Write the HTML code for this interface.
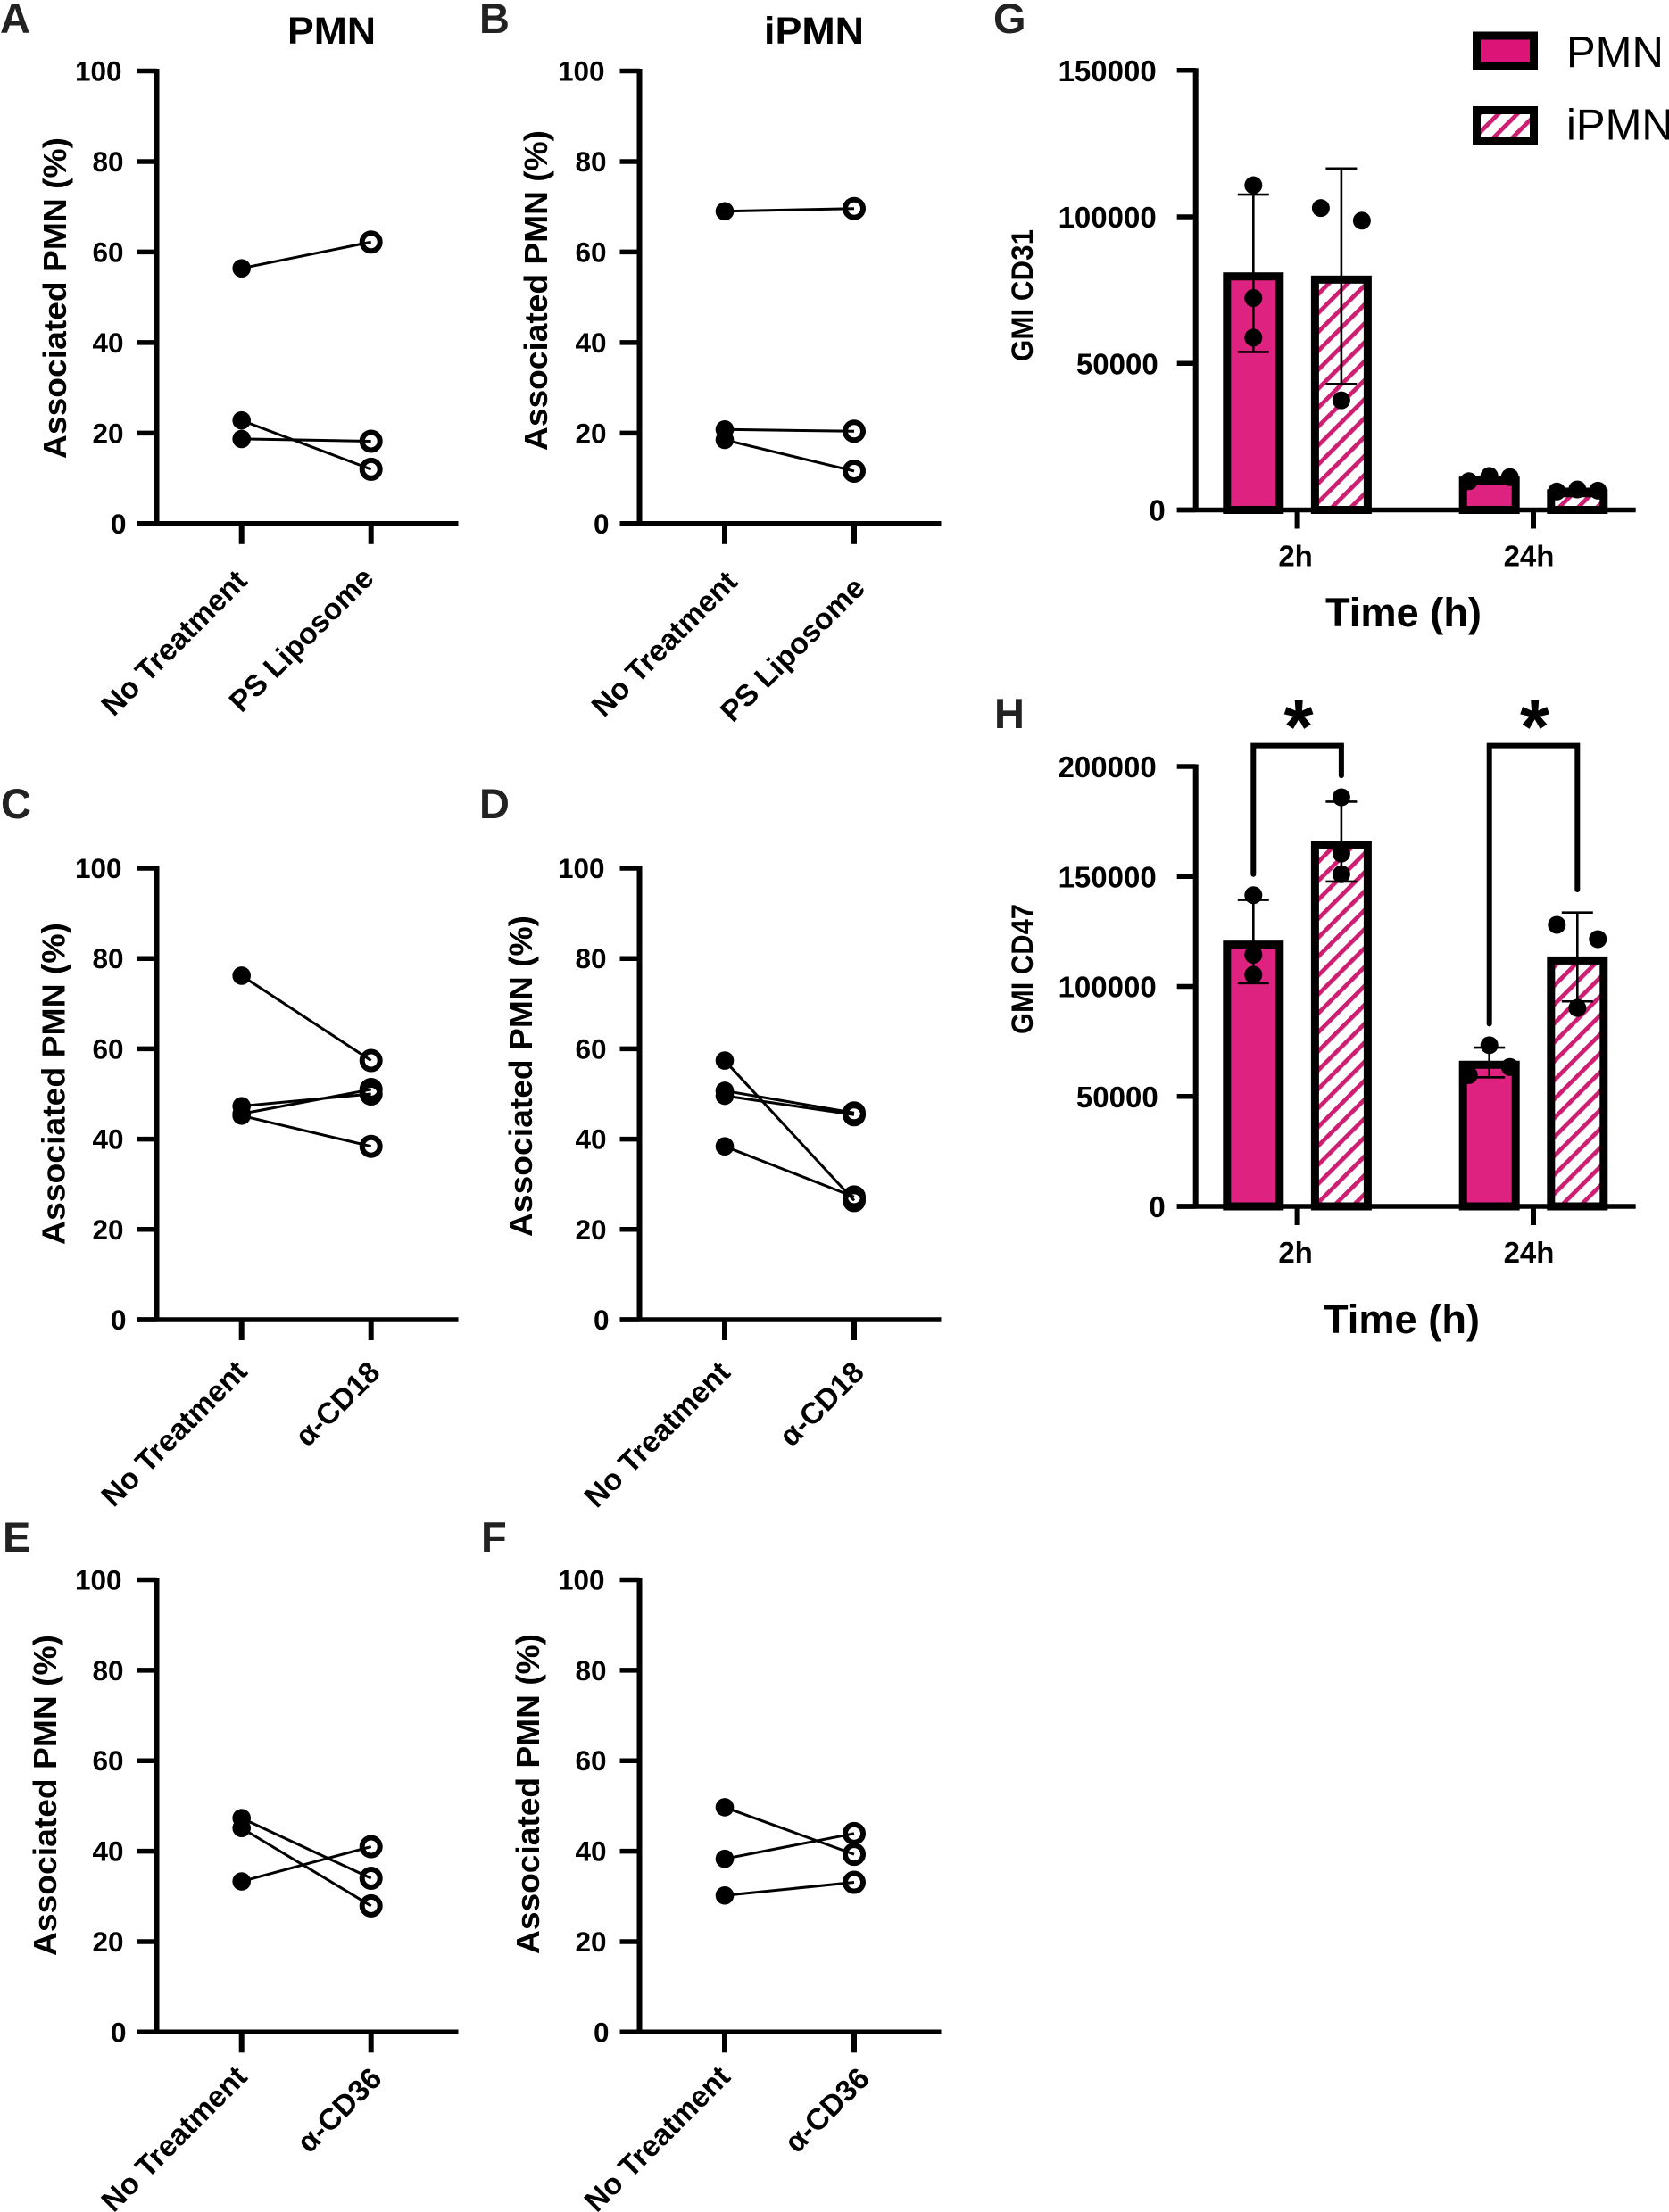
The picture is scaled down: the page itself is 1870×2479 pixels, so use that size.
<!DOCTYPE html>
<html lang="en">
<head>
<meta charset="utf-8">
<title>Associated PMN and GMI figure</title>
<style>
html,body{margin:0;padding:0;background:#fff;}
svg{display:block;font-family:"Liberation Sans",sans-serif;}
text{fill:#000;}
.letter{font-size:47px;font-weight:700;fill:#222;}
.ytitle{font-size:36px;font-weight:700;}
.title{font-size:43px;font-weight:700;}
.gtitle{font-size:34px;font-weight:700;}
.ttitle{font-size:45px;font-weight:700;}
</style>
</head>
<body>
<svg id="figure" width="1870" height="2479" viewBox="0 0 1870 2479" xmlns="http://www.w3.org/2000/svg">
<defs>
<pattern id="hatch" patternUnits="userSpaceOnUse" width="15" height="15" patternTransform="rotate(45)">
<rect width="15" height="15" fill="#fff"/>
<rect x="0" y="0" width="4.8" height="15" fill="#cc1f72"/>
</pattern>
</defs>
<rect x="0" y="0" width="1870" height="2479" fill="#fff"/>

<text class="letter" x="0" y="37">A</text>
<text class="letter" x="537" y="37">B</text>
<text class="letter" x="1" y="917">C</text>
<text class="letter" x="537" y="917">D</text>
<text class="letter" x="3" y="1739">E</text>
<text class="letter" x="539" y="1739">F</text>
<text class="letter" x="1113" y="37">G</text>
<text class="letter" x="1114" y="816">H</text>

<text class="title" x="322" y="49" textLength="99" lengthAdjust="spacingAndGlyphs">PMN</text>
<text class="title" x="856" y="49" textLength="112" lengthAdjust="spacingAndGlyphs">iPMN</text>

<text class="ytitle" transform="translate(74,514) rotate(-90)" textLength="360" lengthAdjust="spacingAndGlyphs">Associated PMN (%)</text>
<text class="ytitle" transform="translate(613,505) rotate(-90)" textLength="359" lengthAdjust="spacingAndGlyphs">Associated PMN (%)</text>
<text class="ytitle" transform="translate(72.5,1395) rotate(-90)" textLength="361" lengthAdjust="spacingAndGlyphs">Associated PMN (%)</text>
<text class="ytitle" transform="translate(596,1386) rotate(-90)" textLength="360" lengthAdjust="spacingAndGlyphs">Associated PMN (%)</text>
<text class="ytitle" transform="translate(63,2192) rotate(-90)" textLength="360" lengthAdjust="spacingAndGlyphs">Associated PMN (%)</text>
<text class="ytitle" transform="translate(604,2190) rotate(-90)" textLength="359" lengthAdjust="spacingAndGlyphs">Associated PMN (%)</text>

<text class="gtitle" transform="translate(1157,405) rotate(-90)" textLength="148" lengthAdjust="spacingAndGlyphs">GMI CD31</text>
<text class="gtitle" transform="translate(1157,1159) rotate(-90)" textLength="146" lengthAdjust="spacingAndGlyphs">GMI CD47</text>
<text class="ttitle" x="1485" y="702" textLength="175" lengthAdjust="spacingAndGlyphs">Time (h)</text>
<text class="ttitle" x="1483" y="1494" textLength="175" lengthAdjust="spacingAndGlyphs">Time (h)</text>

<g>
<rect x="1654.5" y="40" width="64" height="34" fill="#dc1478" stroke="#000" stroke-width="9"/>
<text x="1755" y="75" font-size="49">PMN</text>
<rect x="1654.5" y="123.5" width="64" height="34" fill="url(#hatch)" stroke="#000" stroke-width="9"/>
<text x="1755" y="156.7" font-size="49">iPMN</text>
</g>
<g id="plots"></g>
</svg>

<script>
// ---- paired line panels: values (% associated PMN)
const percentTicks = [0, 20, 40, 60, 80, 100];

const panelACategories = ['No Treatment', 'PS Liposome'];
const panelABefore = [56.4, 22.8, 18.7];
const panelAAfter = [62.2, 12.0, 18.2];

const panelBCategories = ['No Treatment', 'PS Liposome'];
const panelBBefore = [69.0, 20.8, 18.5];
const panelBAfter = [69.6, 20.4, 11.6];

const panelCCategories = ['No Treatment', 'α-CD18'];
const panelCBefore = [76.2, 47.3, 45.6, 45.2];
const panelCAfter = [57.4, 50.0, 51.0, 38.4];

const panelDCategories = ['No Treatment', 'α-CD18'];
const panelDBefore = [57.4, 50.7, 49.6, 38.4];
const panelDAfter = [26.4, 45.8, 45.4, 27.2];

const panelECategories = ['No Treatment', 'α-CD36'];
const panelEBefore = [47.3, 45.1, 33.3];
const panelEAfter = [34.0, 27.9, 41.0];

const panelFCategories = ['No Treatment', 'α-CD36'];
const panelFBefore = [49.7, 38.3, 30.2];
const panelFAfter = [39.3, 43.9, 33.1];

// ---- bar panels: values (GMI)
const timeCategories = ['2h', '24h'];
const seriesNames = ['PMN', 'iPMN'];

const cd31Ticks = [0, 50000, 100000, 150000];
const cd31PmnMean = [79700, 10000];
const cd31IpmnMean = [78600, 5700];
const cd31PmnErrLow = [53900, 9300];
const cd31PmnErrHigh = [107600, 11300];
const cd31IpmnErrLow = [43000, 5500];
const cd31IpmnErrHigh = [116500, 7200];
const cd31PmnPoints = [[110800, 72300, 58800], [9800, 11600, 11200]];
const cd31IpmnPoints = [[103000, 98700, 37400], [6300, 7000, 6600]];
const cd31PmnJitter = [[0, 0, 0], [-1, 0, 1]];
const cd31IpmnJitter = [[-1, 1, 0], [-1, 0, 1]];

const cd47Ticks = [0, 50000, 100000, 150000, 200000];
const cd47PmnMean = [119000, 64400];
const cd47IpmnMean = [164300, 111800];
const cd47PmnErrLow = [101500, 58700];
const cd47PmnErrHigh = [139300, 72200];
const cd47IpmnErrLow = [147700, 93200];
const cd47IpmnErrHigh = [184000, 133600];
const cd47PmnPoints = [[141500, 114400, 105300], [73300, 59700, 63400]];
const cd47IpmnPoints = [[186000, 160400, 151000], [128000, 121500, 90200]];
const cd47PmnJitter = [[0, 0, 0], [0, -1, 1]];
const cd47IpmnJitter = [[0, 0, 0], [-1, 1, 0]];

const NS = 'http://www.w3.org/2000/svg';
const plots = document.getElementById('plots');

function make(tag, attrs, parent) {
  const el = document.createElementNS(NS, tag);
  for (const k in attrs) el.setAttribute(k, attrs[k]);
  parent.appendChild(el);
  return el;
}

function stroke(x1, y1, x2, y2, w, parent, name, cap) {
  const el = make('line', {x1: x1, y1: y1, x2: x2, y2: y2, stroke: '#000', 'stroke-width': w, 'stroke-linecap': cap || 'butt'}, parent);
  
  
  return el;
}

function drawLinePanel(key, layout, categories, before, after) {
  const g = make('g', {}, plots);
  
  
  const yAt = v => layout.y0 - (v / 100) * (layout.y0 - layout.y100);
  const xAt = i => layout.cat0 + i * layout.catStep;

  stroke(layout.axisX, layout.y100 - 2.5, layout.axisX, layout.y0 + 2.5, 6, g, 'y-axis-' + key);
  stroke(layout.axisX - 22, layout.y0, layout.axisX + 338, layout.y0, 5.5, g, 'x-axis-' + key);

  percentTicks.forEach(function (t) {
    const y = yAt(t);
    stroke(layout.axisX - 22, y, layout.axisX, y, 5.5, g, 'y-tick-' + key + '-' + t);
    const s = String(t);
    const lab = make('text', {x: layout.axisX - 37 + (s.length === 3 ? -2 : s.length === 1 ? 3 : 0), y: y + 11, 'text-anchor': 'end', 'font-size': 31.5, 'font-weight': 700}, g);
    lab.textContent = s;
    
    
  });

  categories.forEach(function (c, i) {
    const x = xAt(i);
    stroke(x, layout.y0, x, layout.y0 + 23, 6, g, 'x-tick-' + key + '-' + i);
    const tx = x + 8 + layout.labelShift[i][0];
    const ty = layout.y0 + 66 + layout.labelShift[i][1];
    const lab = make('text', {transform: 'translate(' + tx + ',' + ty + ') rotate(-45)', 'text-anchor': 'end', 'font-size': 33.5, 'font-weight': 700}, g);
    lab.textContent = c;
    
    
  });

  before.forEach(function (v, i) {
    const dot = make('circle', {cx: xAt(0), cy: yAt(v), r: 10.3, fill: '#000'}, g);
    
    
  });
  after.forEach(function (v, i) {
    const ring = make('circle', {cx: xAt(1), cy: yAt(v), r: 10, fill: 'none', stroke: '#000', 'stroke-width': 6}, g);
    
    
  });
  before.forEach(function (v, i) {
    stroke(xAt(0), yAt(v), xAt(1), yAt(after[i]), 3, g, 'pair-line-' + key + '-' + i);
  });
}

function drawBarPanel(key, layout, ticks, means, lows, highs, points, jitters) {
  const g = make('g', {}, plots);
  
  
  const top = ticks[ticks.length - 1];
  const yAt = v => layout.y0 - (v / top) * (layout.y0 - layout.yTop);
  const groupX = i => layout.group0 + i * layout.groupStep;
  const barX = (i, s) => groupX(i) + (s === 0 ? -1 : 1) * layout.barOffset;

  timeCategories.forEach(function (c, i) {
    seriesNames.forEach(function (name, s) {
      const cx = barX(i, s);
      const y = yAt(means[s][i]);
      const bar = make('rect', {x: cx - 29.5, y: y, width: 59, height: layout.y0 - y, fill: s === 0 ? '#de2280' : 'url(#hatch)', stroke: '#000', 'stroke-width': 9}, g);
      
      
    });
  });

  stroke(layout.axisX, layout.yTop - 2.5, layout.axisX, layout.y0 + 2.5, 6, g, 'y-axis-' + key);
  stroke(layout.axisX - 21, layout.y0, layout.axisX + 493, layout.y0, 5.5, g, 'x-axis-' + key);

  ticks.forEach(function (t) {
    const y = yAt(t);
    stroke(layout.axisX - 21, y, layout.axisX, y, 5.5, g, 'y-tick-' + key + '-' + t);
    const s = String(t);
    const lab = make('text', {x: layout.axisX - 44 + (s.length === 5 ? 2 : s.length === 1 ? 10 : 0), y: y + 12, 'text-anchor': 'end', 'font-size': 33, 'font-weight': 700}, g);
    lab.textContent = s;
    
    
  });

  timeCategories.forEach(function (c, i) {
    const x = groupX(i);
    stroke(x, layout.y0, x, layout.y0 + 21, 6, g, 'x-tick-' + key + '-' + c);
    const lab = make('text', {x: x - 2 + (i === 0 ? 0 : -3), y: layout.y0 + 63, 'text-anchor': 'middle', 'font-size': 33, 'font-weight': 700}, g);
    lab.textContent = c;
    
    
  });

  timeCategories.forEach(function (c, i) {
    seriesNames.forEach(function (name, s) {
      const cx = barX(i, s);
      stroke(cx, yAt(lows[s][i]), cx, yAt(highs[s][i]), 2.6, g, 'error-stem-' + key + '-' + name + '-' + c);
      stroke(cx - 17.5, yAt(highs[s][i]), cx + 17.5, yAt(highs[s][i]), 2.6, g, 'error-cap-high-' + key + '-' + name + '-' + c);
      stroke(cx - 17.5, yAt(lows[s][i]), cx + 17.5, yAt(lows[s][i]), 2.6, g, 'error-cap-low-' + key + '-' + name + '-' + c);
      points[s][i].forEach(function (v, p) {
        const dot = make('circle', {cx: cx + jitters[s][i][p] * 23, cy: yAt(v), r: 10, fill: '#000'}, g);
        
        
      });
    });
  });
}

const lineLeft = {axisX: 175.5, cat0: 270.7, catStep: 145};
const lineRight = {axisX: 716.5, cat0: 812, catStep: 145};

drawLinePanel('a', Object.assign({y100: 79.5, y0: 586.8, labelShift: [[0, 0], [-3, -3]]}, lineLeft), panelACategories, panelABefore, panelAAfter);
drawLinePanel('b', Object.assign({y100: 79.5, y0: 586.8, labelShift: [[8, 1], [6, 8]]}, lineRight), panelBCategories, panelBBefore, panelBAfter);
drawLinePanel('c', Object.assign({y100: 973, y0: 1479, labelShift: [[0, -6], [4, -5]]}, lineLeft), panelCCategories, panelCBefore, panelCAfter);
drawLinePanel('d', Object.assign({y100: 973, y0: 1479, labelShift: [[0, -5], [5, -5]]}, lineRight), panelDCategories, panelDBefore, panelDAfter);
drawLinePanel('e', Object.assign({y100: 1770.5, y0: 2277.3, labelShift: [[0, -14], [6, -12]]}, lineLeft), panelECategories, panelEBefore, panelEAfter);
drawLinePanel('f', Object.assign({y100: 1770.5, y0: 2277.3, labelShift: [[0, -14], [11, -12]]}, lineRight), panelFCategories, panelFBefore, panelFAfter);

drawBarPanel('g', {axisX: 1339.7, yTop: 78.8, y0: 571.5, group0: 1453.6, groupStep: 264.4, barOffset: 49.3},
  cd31Ticks, [cd31PmnMean, cd31IpmnMean], [cd31PmnErrLow, cd31IpmnErrLow], [cd31PmnErrHigh, cd31IpmnErrHigh],
  [cd31PmnPoints, cd31IpmnPoints], [cd31PmnJitter, cd31IpmnJitter]);
drawBarPanel('h', {axisX: 1339.7, yTop: 859, y0: 1352, group0: 1453.6, groupStep: 264.4, barOffset: 49.3},
  cd47Ticks, [cd47PmnMean, cd47IpmnMean], [cd47PmnErrLow, cd47IpmnErrLow], [cd47PmnErrHigh, cd47IpmnErrHigh],
  [cd47PmnPoints, cd47IpmnPoints], [cd47PmnJitter, cd47IpmnJitter]);

// ---- significance brackets on panel H
const bracketSpans = [
  {name: '2h', leftValue: 151000, rightValue: 195900},
  {name: '24h', leftValue: 83000, rightValue: 144000}
];
const bracketTopValue = 209500;
bracketSpans.forEach(function (b, i) {
  const yAt = v => 1352 - (v / 200000) * (1352 - 859);
  const xL = 1453.6 + i * 264.4 - 49.3;
  const xR = 1453.6 + i * 264.4 + 49.3;
  const path = make('path', {d: 'M' + xL + ' ' + yAt(b.leftValue) + 'V' + yAt(bracketTopValue) + 'H' + xR + 'V' + yAt(b.rightValue), fill: 'none', stroke: '#000', 'stroke-width': 6, 'stroke-linecap': 'round', 'stroke-linejoin': 'miter'}, plots);
  
  
  const star = make('text', {x: (xL + xR) / 2 + 1.5, y: 844, 'text-anchor': 'middle', 'font-size': 85, 'font-weight': 700}, plots);
  star.textContent = '*';
  
  
});
</script>
</body>
</html>
